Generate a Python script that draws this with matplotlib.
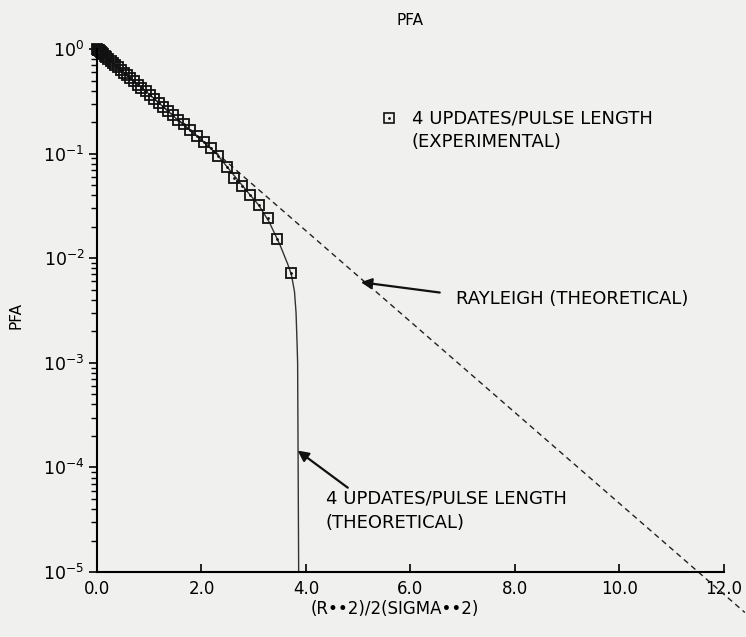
import matplotlib.pyplot as plt

plt.rcParams['font.family'] = ['DejaVu Sans']
plt.rcParams['mathtext.default'] = 'regular'

# experimental points (4 updates / pulse length)
exp_x = [0.0, 0.01, 0.02, 0.03, 0.05, 0.07, 0.09, 0.12, 0.15, 0.18, 0.22, 0.26,
         0.30, 0.35, 0.40, 0.46, 0.52, 0.58, 0.64, 0.71, 0.78, 0.85, 0.93, 1.01,
         1.09, 1.18, 1.27, 1.36, 1.46, 1.56, 1.66, 1.78, 1.91, 2.04, 2.18, 2.32,
         2.48, 2.62, 2.77, 2.93, 3.10, 3.27, 3.45, 3.72]
exp_y = [1.0, 0.99, 0.98, 0.97, 0.95, 0.93, 0.91, 0.89, 0.86, 0.835, 0.80, 0.77,
         0.74, 0.70, 0.67, 0.63, 0.595, 0.56, 0.527, 0.49, 0.458, 0.427, 0.395, 0.364,
         0.336, 0.307, 0.281, 0.257, 0.232, 0.21, 0.19, 0.169, 0.148, 0.13, 0.113, 0.094,
         0.074, 0.058, 0.049, 0.040, 0.032, 0.024, 0.0152, 0.0072]

# theoretical curve (4 updates / pulse length)
theo_x = [0.0, 0.5, 1.0, 1.5, 2.0, 2.3, 2.6, 2.9, 3.1, 3.3, 3.5, 3.65, 3.72, 3.78, 3.81, 3.83, 3.84, 3.85, 3.86]
theo_y = [1.0, 0.61, 0.37, 0.22, 0.135, 0.098, 0.064, 0.042, 0.032, 0.022, 0.0135, 0.0088, 0.0070, 0.0048, 0.0030, 0.0015, 1e-3, 1e-4, 1e-5]

# Rayleigh (theoretical) line
ray_x = [0.0, 12.4]
ray_y = [1.0, 4.1e-6]

xticks = [0, 2, 4, 6, 8, 10, 12]
xticklabels = ['0.0', '2.0', '4.0', '6.0', '8.0', '10.0', '12.0']

bg = '#f0f0ee'
ink = '#111111'
fig = plt.figure(figsize=(7.46, 6.37), dpi=100, facecolor=bg)
ax = fig.add_axes([0.130, 0.102, 0.8405, 0.821])
ax.set_facecolor(bg)

ax.plot(ray_x, ray_y, color='#222222', lw=1.0, linestyle=(0, (4, 3)), clip_on=False)
ax.plot(theo_x, theo_y, color='#333333', lw=1.0, clip_on=False)
ax.plot(exp_x, exp_y, linestyle='none', marker='s', ms=6.5, mfc='none', mec=ink,
        mew=1.3, clip_on=False)
ax.plot(exp_x, exp_y, linestyle='none', marker='.', ms=2, color=ink, clip_on=False)

ax.set_yscale('log')
ax.set_xlim(0, 12)
ax.set_ylim(1e-5, 1.0)
ax.set_xticks(xticks)
ax.set_xticklabels(xticklabels)

ax.spines['top'].set_visible(False)
ax.spines['right'].set_visible(False)
ax.spines['left'].set_linewidth(1.5)
ax.spines['bottom'].set_linewidth(1.5)
ax.tick_params(axis='x', direction='in', length=6, width=1.2, labelsize=12, pad=6)
ax.tick_params(axis='y', which='major', direction='out', length=6, width=1.2, labelsize=12.5, pad=3)
ax.tick_params(axis='y', which='minor', direction='out', length=4, width=1.0)

ax.set_ylabel('PFA', fontsize=11)
ax.yaxis.set_label_coords(-0.117, 0.49)
ax.set_xlabel('(R\u2022\u20222)/2(SIGMA\u2022\u20222)', fontsize=12)
ax.xaxis.set_label_coords(0.475, -0.054)
ax.text(0.50, 1.054, 'PFA', transform=ax.transAxes, ha='center', va='center', fontsize=11)

# legend entry
ax.plot([0.466], [0.868], transform=ax.transAxes, marker='s', ms=7, mfc='none',
        mec=ink, mew=1.2, clip_on=False)
ax.plot([0.466], [0.868], transform=ax.transAxes, marker='.', ms=2, color=ink, clip_on=False)
ax.text(0.502, 0.868, '4 UPDATES/PULSE LENGTH', transform=ax.transAxes,
        ha='left', va='center', fontsize=13)
ax.text(0.502, 0.822, '(EXPERIMENTAL)', transform=ax.transAxes,
        ha='left', va='center', fontsize=13)

# annotations
arrow = dict(arrowstyle='-|>', color=ink, lw=1.6, mutation_scale=16, shrinkA=0, shrinkB=0)
ax.annotate('', xy=(5.05, 0.0059), xytext=(6.56, 0.0047), arrowprops=arrow)
ax.text(6.88, 0.0041, 'RAYLEIGH (THEORETICAL)', ha='left', va='center', fontsize=13)

ax.annotate('', xy=(3.84, 1.45e-4), xytext=(4.80, 6.4e-5), arrowprops=arrow)
ax.text(4.38, 10 ** -4.30, '4 UPDATES/PULSE LENGTH', ha='left', va='center', fontsize=13)
ax.text(4.38, 10 ** -4.53, '(THEORETICAL)', ha='left', va='center', fontsize=13)

fig.savefig('out.png', dpi=100, facecolor=bg)
